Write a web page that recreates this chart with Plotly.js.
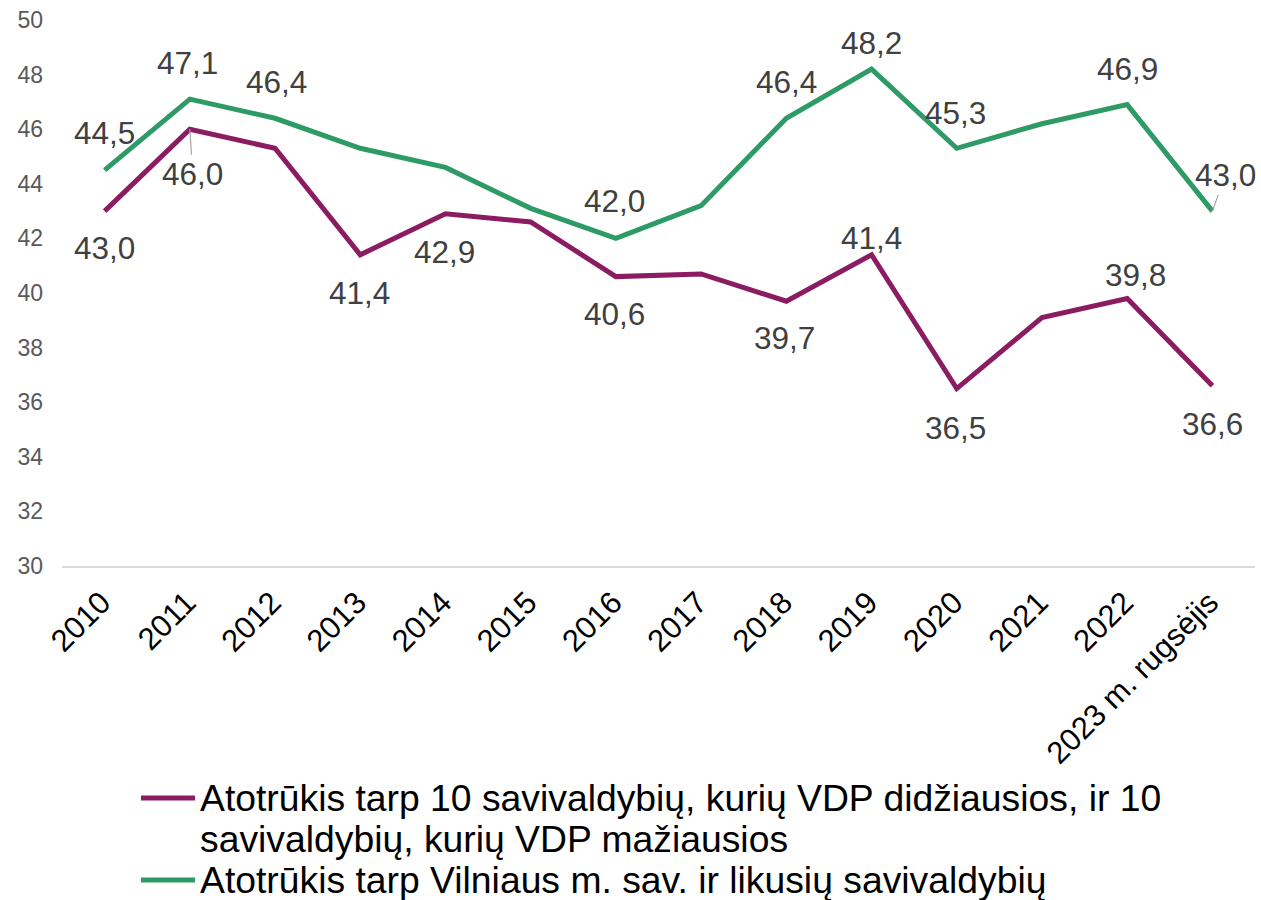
<!DOCTYPE html>
<html>
<head>
<meta charset="utf-8">
<script src="https://cdn.plot.ly/plotly-3.0.1.min.js"></script>
<style>
  html, body { margin: 0; padding: 0; background: #ffffff; }
  #chart { width: 1261px; height: 900px; }
</style>
</head>
<body>
<div id="chart"></div>
<script>
// ---- Data ----
const years = ["2010", "2011", "2012", "2013", "2014", "2015", "2016", "2017", "2018", "2019", "2020", "2021", "2022", "2023 m. rugsėjis"];
const gapTop10 = [43.0, 46.0, 45.3, 41.4, 42.9, 42.6, 40.6, 40.7, 39.7, 41.4, 36.5, 39.1, 39.8, 36.6];
const gapVilnius = [44.5, 47.1, 46.4, 45.3, 44.6, 43.1, 42.0, 43.2, 46.4, 48.2, 45.3, 46.2, 46.9, 43.0];
const labeledTop10 = [0, 1, 3, 4, 6, 8, 9, 10, 12, 13];
const labeledVilnius = [0, 1, 2, 6, 8, 9, 10, 12, 13];
const nameTop10Lines = ["Atotrūkis tarp 10 savivaldybių, kurių VDP didžiausios, ir 10", "savivaldybių, kurių VDP mažiausios"];
const nameVilniusLines = ["Atotrūkis tarp Vilniaus m. sav. ir likusių savivaldybių"];
const yTicks = [30, 32, 34, 36, 38, 40, 42, 44, 46, 48, 50];

// ---- Label placement (pixel offsets from point, [dx, dy]) ----
const offsetsTop10 = {0: [0, 37], 1: [3, 45], 3: [-1, 38], 4: [-1, 38], 6: [-1, 37], 8: [-2, 37], 9: [0, -17], 10: [-1, 39], 12: [8, -23], 13: [0, 38]};
const offsetsVilnius = {0: [0, -37], 1: [-2, -36], 2: [1, -36], 6: [-1, -37], 8: [0, -36], 9: [0, -26], 10: [-1, -35], 12: [0, -36], 13: [13, -36]};
const leaderTop10 = [1];
const leaderVilnius = [13];

// ---- Styles ----
const FONT = "Liberation Sans, Arial, sans-serif";
const PURPLE = "#8b1c62";
const GREEN = "#2e9b66";
const LABEL_COLOR = "#404040";
const M = {l: 62, r: 6, t: 20, b: 334};
const W = 1261, H = 900;
const PW = W - M.l - M.r, PH = H - M.t - M.b;
const px2x = p => (p - M.l) / PW;
const px2y = p => (H - M.b - p) / PH;

const fmt = v => v.toFixed(1).replace(".", ",");

function labelAnns(values, idxs, offsets, leaders) {
  return idxs.map(i => {
    const off = offsets[i] || [0, -30];
    const lead = leaders.includes(i);
    return {
      x: i, y: values[i], xref: "x", yref: "y",
      text: fmt(values[i]),
      showarrow: true, arrowhead: 0, arrowwidth: 1.2,
      arrowcolor: lead ? "#a6a6a6" : "rgba(0,0,0,0)",
      ax: off[0], ay: off[1],
      font: {family: FONT, size: 31.5, color: LABEL_COLOR}
    };
  });
}

const traces = [
  {x: years, y: gapTop10, type: "scatter", mode: "lines", name: nameTop10Lines.join(" "),
   line: {color: PURPLE, width: 5}, showlegend: false, cliponaxis: false},
  {x: years, y: gapVilnius, type: "scatter", mode: "lines", name: nameVilniusLines.join(" "),
   line: {color: GREEN, width: 5}, showlegend: false, cliponaxis: false}
];

// Legend built from shapes + text
const legendAnns = [];
const legendShapes = [];
const legendRows = [
  {lines: nameTop10Lines, color: PURPLE, top: 798},
  {lines: nameVilniusLines, color: GREEN, top: 880}
];
legendRows.forEach(row => {
  legendShapes.push({type: "line", xref: "paper", yref: "paper",
    x0: px2x(141), x1: px2x(195), y0: px2y(row.top), y1: px2y(row.top),
    line: {color: row.color, width: 5}});
  row.lines.forEach((ln, k) => {
    legendAnns.push({xref: "paper", yref: "paper", x: px2x(198), y: px2y(row.top + k * 41),
      xanchor: "left", yanchor: "middle", showarrow: false, text: ln,
      font: {family: FONT, size: 37.3, color: "#000000"}});
  });
});

const layout = {
  width: W, height: H,
  margin: M,
  paper_bgcolor: "#ffffff", plot_bgcolor: "#ffffff",
  showlegend: false,
  font: {family: FONT},
  xaxis: {
    type: "category", range: [-0.5, 13.5],
    showgrid: false, zeroline: false,
    showline: true, linecolor: "#d9d9d9", linewidth: 2,
    ticks: "", tickangle: -45,
    tickfont: {family: FONT, size: 31, color: "#000000"},
    ticklabelstandoff: 4, ticklabelshift: -3
  },
  yaxis: {
    range: [30, 50], tickvals: yTicks, ticktext: yTicks.map(String),
    showgrid: false, zeroline: false, showline: false, ticks: "",
    tickfont: {family: FONT, size: 23, color: "#595959"},
    ticklabelstandoff: 18
  },
  annotations: labelAnns(gapTop10, labeledTop10, offsetsTop10, leaderTop10)
    .concat(labelAnns(gapVilnius, labeledVilnius, offsetsVilnius, leaderVilnius))
    .concat(legendAnns),
  shapes: legendShapes
};

Plotly.newPlot("chart", traces, layout, {displayModeBar: false, staticPlot: true});
</script>
</body>
</html>
